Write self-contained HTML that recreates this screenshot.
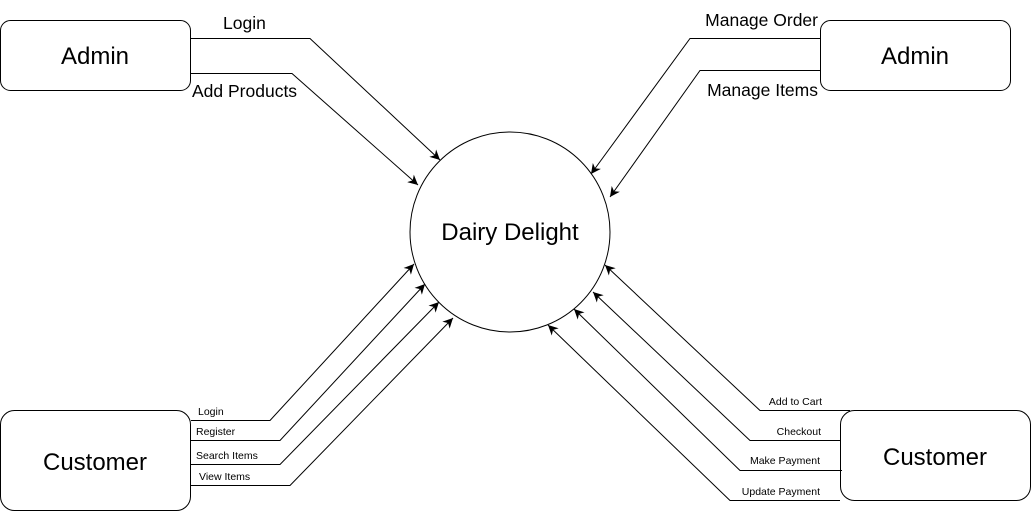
<!DOCTYPE html>
<html><head><meta charset="utf-8"><style>
html,body{margin:0;padding:0;background:#fff;}
svg{display:block;font-family:"Liberation Sans",Arial,sans-serif;}
</style></head><body>
<svg width="1031" height="511" viewBox="0 0 1031 511" xmlns="http://www.w3.org/2000/svg">
<defs>
<marker id="a" viewBox="0 0 10 10" refX="10" refY="5" markerWidth="10" markerHeight="10" markerUnits="userSpaceOnUse" orient="auto">
<path d="M0,0 L10,5 L0,10 L3,5 Z" fill="#000"/>
</marker>
</defs>
<g fill="#fff" stroke="#000" stroke-width="1">
<rect x="0.5" y="20.5" width="190" height="70" rx="10"/>
<rect x="820.5" y="20.5" width="190" height="70" rx="10"/>
<rect x="0.5" y="410.5" width="190" height="100" rx="14"/>
<rect x="840.5" y="410.5" width="190" height="90" rx="14"/>
<circle cx="510" cy="232" r="100"/>
</g>
<g fill="none" stroke="#000" stroke-width="1" marker-end="url(#a)">
<polyline points="191,38.5 310,38.5 440,160"/>
<polyline points="191,73.5 292,73.5 418,185"/>
<polyline points="820,38.5 690,38.5 591,174"/>
<polyline points="820,70.5 700,70.5 610,197"/>
<polyline points="191,420.5 270,420.5 414,264"/>
<polyline points="191,440.5 280,440.5 425,284"/>
<polyline points="191,464.5 280,464.5 439,302"/>
<polyline points="191,485.5 290,485.5 453,318"/>
<polyline points="850,410.5 760,410.5 605,265"/>
<polyline points="840,440.5 750,440.5 593,292"/>
<polyline points="842,470.5 740,470.5 574,309"/>
<polyline points="840,500.5 730,500.5 548,325"/>
</g>
<g fill="#000" font-size="24" text-anchor="middle">
<text x="95" y="64">Admin</text>
<text x="915" y="64">Admin</text>
<text x="95" y="470">Customer</text>
<text x="935" y="465">Customer</text>
<text x="510" y="240">Dairy Delight</text>
</g>
<g fill="#000" font-size="17.5">
<text x="223" y="29">Login</text>
<text x="192" y="97">Add Products</text>
<text x="818" y="26" text-anchor="end">Manage Order</text>
<text x="818" y="96" text-anchor="end">Manage Items</text>
</g>
<g fill="#000" font-size="10.5">
<text x="198" y="415">Login</text>
<text x="196" y="435">Register</text>
<text x="196" y="459">Search Items</text>
<text x="199" y="480">View Items</text>
<text x="822" y="405" text-anchor="end">Add to Cart</text>
<text x="821" y="435" text-anchor="end">Checkout</text>
<text x="820" y="464" text-anchor="end">Make Payment</text>
<text x="820" y="495" text-anchor="end">Update Payment</text>
</g>
</svg>
</body></html>
